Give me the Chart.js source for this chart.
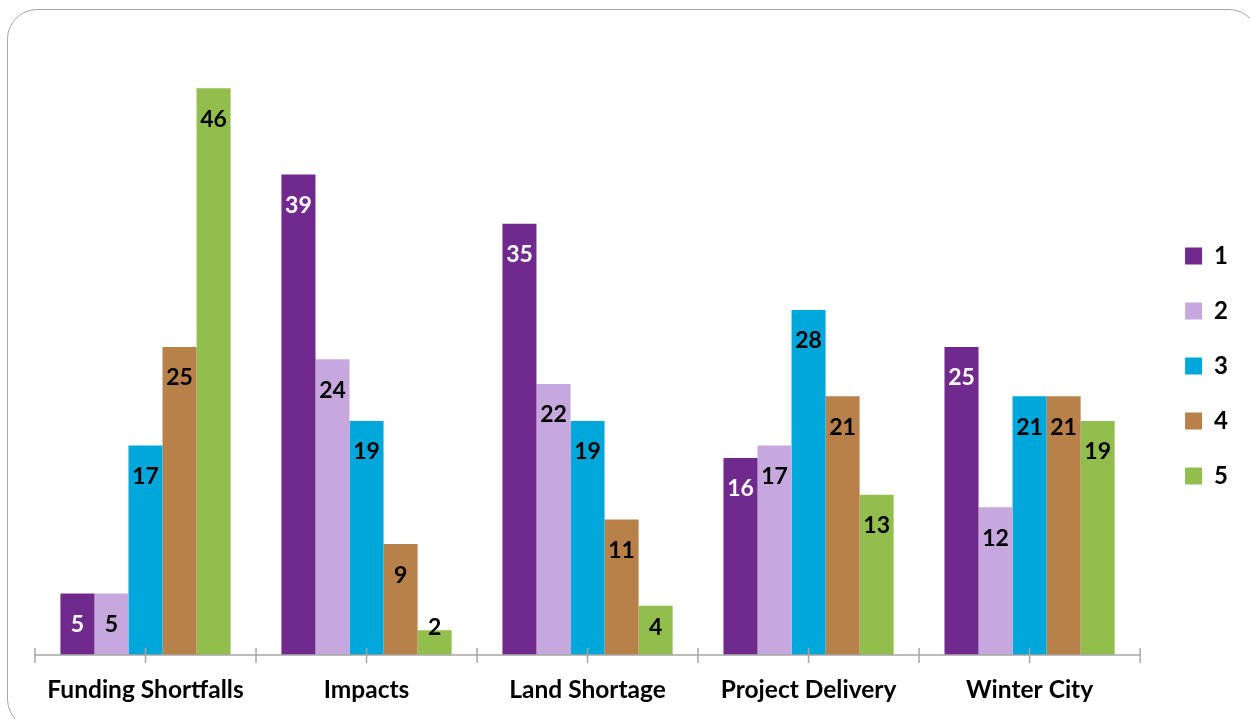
<!DOCTYPE html>
<html>
<head>
<meta charset="utf-8">
<script src="https://cdn.jsdelivr.net/npm/chart.js@4"></script>
<style>
  body { margin: 0; background: #fff; overflow: hidden; }
  #wrap { position: relative; width: 1250px; height: 719px; }
  #frame {
    position: absolute; left: 7px; top: 9px; width: 1252px; height: 720px;
    border: 1.5px solid #a6a6a6; border-radius: 30px; box-sizing: border-box;
  }
  #myChart { position: absolute; left: 0; top: 0; }
</style>
</head>
<body>
<div id="wrap">
  <div id="frame"></div>
  <canvas id="myChart" width="1250" height="719"></canvas>
</div>
<script>
/**
 * データ
 */
const categories = ["Funding Shortfalls", "Impacts", "Land Shortage", "Project Delivery", "Winter City"];
const seriesNames = ["1", "2", "3", "4", "5"];
const values1 = [5, 39, 35, 16, 25];
const values2 = [5, 24, 22, 17, 12];
const values3 = [17, 19, 19, 28, 21];
const values4 = [25, 9, 11, 21, 21];
const values5 = [46, 2, 4, 13, 19];
const seriesColors = ["#70298d", "#c7a8de", "#00a7da", "#b8814a", "#92be4e"];
const labelColors = ["#ffffff", "#000000", "#000000", "#000000", "#000000"];
const FONT = "Lato";

/**
 * 棒の上端内側に値を書くプラグイン
 */
const barLabelPlugin = {
  id: "barLabels",
  afterDatasetsDraw: function (chart) {
    const ctx = chart.ctx;
    const base = chart.scales.y.getPixelForValue(0);
    ctx.save();
    ctx.font = "bold 23px " + FONT;
    ctx.textAlign = "center";
    ctx.textBaseline = "middle";
    chart.data.datasets.forEach(function (dataset, i) {
      chart.getDatasetMeta(i).data.forEach(function (bar, j) {
        // 短い棒は軸の少し上に置く
        const y = Math.min(bar.y + 31, base - 27);
        ctx.fillStyle = labelColors[i];
        ctx.fillText(String(dataset.data[j]), bar.x, y);
      });
    });
    ctx.restore();
  },
};

/**
 * 横軸の線と目盛り（カテゴリの半分ごと）
 */
const axisPlugin = {
  id: "axisLine",
  afterDatasetsDraw: function (chart) {
    const ctx = chart.ctx;
    const xs = chart.scales.x;
    const y = chart.chartArea.bottom;
    const steps = categories.length * 2;
    ctx.save();
    ctx.strokeStyle = "#a6a6a6";
    ctx.lineWidth = 1.5;
    ctx.beginPath();
    ctx.moveTo(xs.left, y);
    ctx.lineTo(xs.right, y);
    for (let i = 0; i <= steps; i++) {
      const tx = xs.left + (xs.width * i) / steps;
      ctx.moveTo(tx, y - 7);
      ctx.lineTo(tx, y + 8);
    }
    ctx.stroke();
    ctx.restore();
  },
};

const seriesValues = [values1, values2, values3, values4, values5];

const ctx = document.getElementById("myChart").getContext("2d");
const myChart = new Chart(ctx, {
  type: "bar",
  data: {
    labels: categories,
    datasets: seriesNames.map(function (name, i) {
      return {
        label: name,
        data: seriesValues[i],
        backgroundColor: seriesColors[i],
        borderWidth: 0,
        categoryPercentage: 0.77,
        barPercentage: 1.0,
      };
    }),
  },
  options: {
    responsive: false,
    animation: false,
    layout: {
      padding: { top: 23, bottom: 10, left: 35, right: 12 },
    },
    plugins: {
      tooltip: { enabled: false },
      legend: {
        position: "right",
        labels: {
          boxWidth: 17,
          boxHeight: 17,
          padding: 31,
          color: "#000",
          font: { family: FONT, size: 24, weight: "bold" },
        },
      },
    },
    scales: {
      x: {
        grid: { display: false, drawTicks: false },
        border: { display: false },
        ticks: {
          padding: 20.5,
          color: "#000",
          font: { family: FONT, size: 24.5, weight: "bold" },
          maxRotation: 0,
        },
        afterFit: function (scale) {
          scale.height = 54;
        },
      },
      y: {
        position: "right",
        min: 0,
        max: 51.3,
        grid: { display: false, drawTicks: false },
        border: { display: false },
        ticks: { display: false },
        afterFit: function (scale) {
          scale.width = 14;
        },
      },
    },
  },
  plugins: [barLabelPlugin, axisPlugin],
});
</script>
</body>
</html>
